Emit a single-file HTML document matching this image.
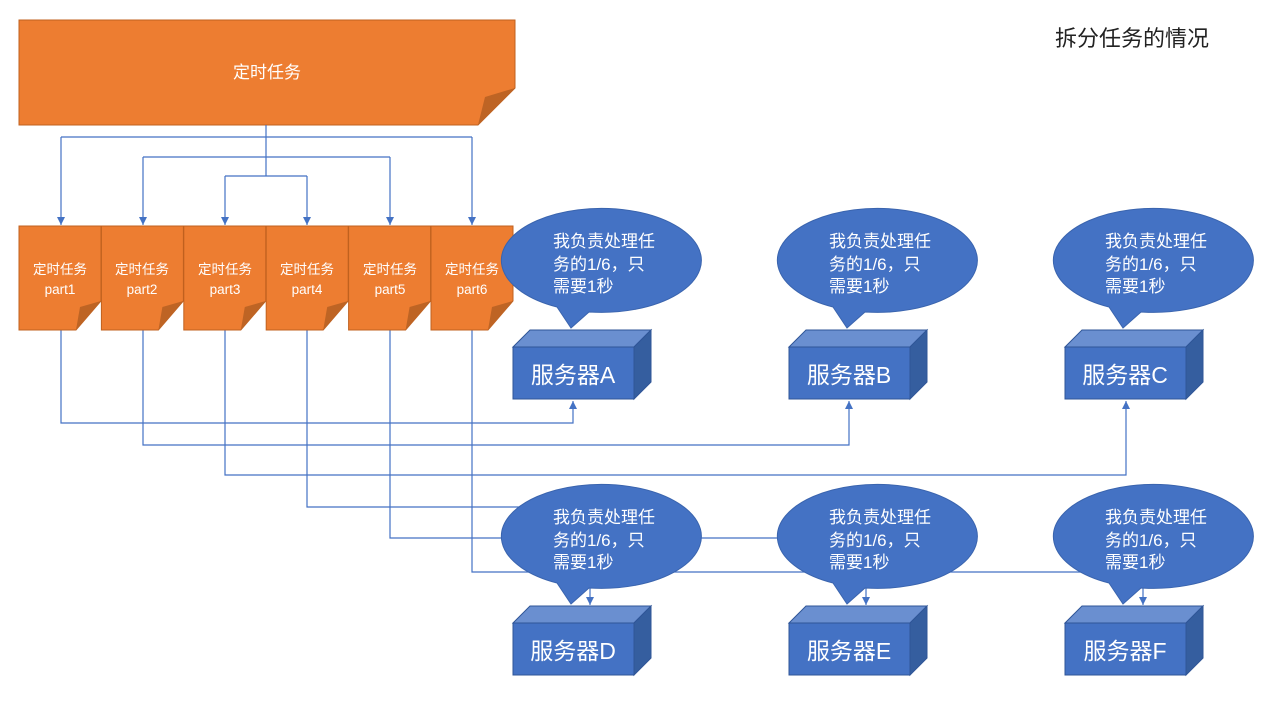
<!DOCTYPE html>
<html><head><meta charset="utf-8"><style>
body{margin:0;background:#fff}
svg text{font-family:"Liberation Sans","Noto Sans CJK SC",sans-serif}
</style></head><body>
<svg width="1270" height="705" viewBox="0 0 1270 705" xmlns="http://www.w3.org/2000/svg">
<defs><marker id="a" markerWidth="8" markerHeight="8" refX="4" refY="7" orient="auto-start-reverse" markerUnits="userSpaceOnUse"><path d="M0,0 L4,8 L8,0 Z" fill="#4472C4" transform="rotate(0)"/></marker>
<marker id="ar" viewBox="0 0 10 10" refX="10" refY="5" markerWidth="8" markerHeight="8" orient="auto" markerUnits="userSpaceOnUse"><path d="M0,0 L10,5 L0,10 Z" fill="#4472C4"/></marker></defs>
<text x="1055" y="46" font-size="22" fill="#222">拆分任务的情况</text>
<!-- top shape -->
<path d="M19,20 H515 V88 L478,125 H19 Z" fill="#ED7D31" stroke="#C0611F"/>
<path d="M478,125 L485,97 L515,88 Z" fill="#BE6424"/>
<text x="267" y="78" font-size="17" fill="#fff" text-anchor="middle">定时任务</text>
<g fill="none" stroke="#4472C4" stroke-width="1.2">
<path d="M266,125 V137 M61,137 H472 M143,157 H390 M225,176 H307 M266,137 V176"/>
<path d="M61,137 V225" marker-end="url(#ar)"/><path d="M472,137 V225" marker-end="url(#ar)"/>
<path d="M143,157 V225" marker-end="url(#ar)"/><path d="M390,157 V225" marker-end="url(#ar)"/>
<path d="M225,176 V225" marker-end="url(#ar)"/><path d="M307,176 V225" marker-end="url(#ar)"/>
<path d="M61,330 V423 H573 V401" marker-end="url(#ar)"/>
<path d="M143,330 V445 H849 V401" marker-end="url(#ar)"/>
<path d="M225,330 V475 H1126 V401" marker-end="url(#ar)"/>
<path d="M307,330 V507 H590 V605" marker-end="url(#ar)"/>
<path d="M390,330 V538 H866 V605" marker-end="url(#ar)"/>
<path d="M472,330 V572 H1143 V605" marker-end="url(#ar)"/>
</g>
<!-- parts -->
<g font-size="13.5" fill="#fff" text-anchor="middle">
<g id="p"><path d="M19,226 H101 V301 L76,330 H19 Z" fill="#ED7D31" stroke="#C0611F"/><path d="M76,330 L80,307 L101,301 Z" fill="#BE6424"/></g>
<use href="#p" x="82.4"/><use href="#p" x="164.8"/><use href="#p" x="247.2"/><use href="#p" x="329.6"/><use href="#p" x="412"/>
<text x="60" y="274">定时任务</text><text x="60" y="294">part1</text>
<text x="142" y="274">定时任务</text><text x="142" y="294">part2</text>
<text x="225" y="274">定时任务</text><text x="225" y="294">part3</text>
<text x="307" y="274">定时任务</text><text x="307" y="294">part4</text>
<text x="390" y="274">定时任务</text><text x="390" y="294">part5</text>
<text x="472" y="274">定时任务</text><text x="472" y="294">part6</text>
</g>
<!-- callouts and servers -->
<g id="u">
<path d="M557,307 A100,52 0 1 1 589,312 L571,328 Z" fill="#4472C4" stroke="#3A64AE"/>
<g fill="#fff" font-size="17"><text x="553" y="247">我负责处理任</text><text x="553" y="270">务的1/6，只</text><text x="553" y="292">需要1秒</text></g>
<path d="M513,347 L530,330 H651 L634,347 Z" fill="#6A8FD0" stroke="#2F5597"/>
<path d="M634,347 L651,330 V382 L634,399 Z" fill="#355E9F" stroke="#2F5597"/>
<rect x="513" y="347" width="121" height="52" fill="#4472C4" stroke="#2F5597"/>
</g>
<use href="#u" x="276"/><use href="#u" x="552"/>
<use href="#u" x="0" y="276"/><use href="#u" x="276" y="276"/><use href="#u" x="552" y="276"/>
<g fill="#fff" font-size="23" text-anchor="middle">
<text x="573" y="383">服务器A</text><text x="849" y="383">服务器B</text><text x="1125" y="383">服务器C</text>
<text x="573" y="659">服务器D</text><text x="849" y="659">服务器E</text><text x="1125" y="659">服务器F</text>
</g>
</svg>
</body></html>
